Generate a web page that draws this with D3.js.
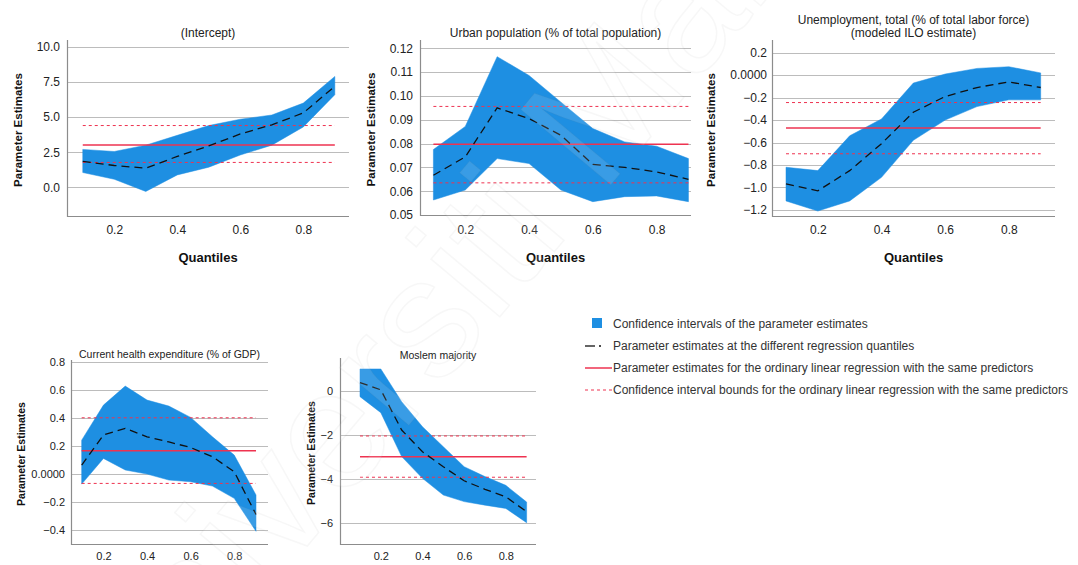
<!DOCTYPE html>
<html>
<head>
<meta charset="utf-8">
<script src="https://cdn.jsdelivr.net/npm/d3@7"></script>
<style>
    body { margin: 0; background: #fff; }
    svg { display: block; font-family: Arial, 'Liberation Sans', sans-serif; }
</style>
</head>
<body>
<svg id="chart" width="1078" height="565"></svg>
<script>
// quantiles used by every panel
const quantiles = [0.1, 0.2, 0.3, 0.4, 0.5, 0.6, 0.7, 0.8, 0.9];
const xTicks = [0.2, 0.4, 0.6, 0.8];

// (Intercept)
const interceptEst = [1.85, 1.55, 1.36, 2.2, 2.95, 3.8, 4.45, 5.3, 7.2];
const interceptLower = [1.05, 0.57, -0.3, 0.88, 1.43, 2.3, 3.0, 4.3, 6.6];
const interceptUpper = [2.7, 2.55, 3.0, 3.7, 4.4, 4.85, 5.15, 6.0, 7.9];
const interceptOls = [3.02, 1.77, 4.4];
const interceptTicks = [0, 2.5, 5, 7.5, 10];

// Urban population
const urbanEst = [0.0667, 0.0744, 0.095, 0.0905, 0.0835, 0.0713, 0.0700, 0.0681, 0.065];
const urbanLower = [0.0563, 0.0605, 0.0737, 0.0716, 0.0605, 0.0556, 0.0577, 0.058, 0.0556];
const urbanUpper = [0.0775, 0.0872, 0.1165, 0.1086, 0.0974, 0.0863, 0.0807, 0.0789, 0.0737];
const urbanOls = [0.0797, 0.0635, 0.0956];
const urbanTicks = [0.05, 0.06, 0.07, 0.08, 0.09, 0.10, 0.11, 0.12];

// Unemployment
const unempEst = [-0.968, -1.03, -0.85, -0.61, -0.33, -0.19, -0.11, -0.06, -0.11];
const unempLower = [-1.12, -1.21, -1.12, -0.91, -0.58, -0.40, -0.28, -0.22, -0.22];
const unempUpper = [-0.82, -0.85, -0.54, -0.39, -0.07, 0.01, 0.06, 0.075, 0.02];
const unempOls = [-0.47, -0.70, -0.244];
const unempTicks = [-1.2, -1.0, -0.8, -0.6, -0.4, -0.2, 0, 0.2];

// Current health expenditure
const healthEst = [0.064, 0.28, 0.327, 0.267, 0.23, 0.19, 0.124, 0.017, -0.29];
const healthLower = [-0.072, 0.112, 0.029, 0.0, -0.043, -0.055, -0.086, -0.174, -0.41];
const healthUpper = [0.243, 0.494, 0.63, 0.53, 0.487, 0.406, 0.267, 0.136, -0.15];
const healthOls = [0.167, -0.067, 0.403];
const healthTicks = [-0.4, -0.2, 0, 0.2, 0.4, 0.6, 0.8];

// Moslem majority
const moslemEst = [0.38, 0.05, -1.78, -2.77, -3.45, -4.09, -4.48, -4.82, -5.5];
const moslemLower = [-0.26, -0.99, -2.99, -3.98, -4.74, -5.04, -5.2, -5.35, -6.0];
const moslemUpper = [1.0, 1.0, -0.49, -1.63, -2.54, -3.45, -3.9, -4.3, -5.06];
const moslemOls = [-3.0, -3.93, -2.05];
const moslemTicks = [-6, -4, -2, 0];

const legendLabels = [
    'Confidence intervals of the parameter estimates',
    'Parameter estimates at the different regression quantiles',
    'Parameter estimates for the ordinary linear regression with the same predictors',
    'Confidence interval bounds for the ordinary linear regression with the same predictors'
];

const BAND = '#1e8fe2';
const RED = '#ee3350';
const GRID = '#bcbcbc';
const AXIS = '#8c8c8c';

const svg = d3.select('#chart');

function fourDecimalZero(d) {
    return d === 0 ? '0.0000' : d3.format('.1f')(d);
}

function drawPanel(p) {
    const x = d3.scaleLinear().domain(p.xDomain).range([p.left, p.right]);
    const y = d3.scaleLinear().domain(p.yDomain).range([p.bottom, p.top]);
    const g = svg.append('g').attr('class', 'panel');

    // horizontal grid lines
    g.selectAll('line.grid')
        .data(p.yTicks).enter().append('line')
        .attr('class', 'grid')
        .attr('x1', p.left).attr('x2', p.right)
        .attr('y1', function (d) { return Math.round(y(d)) + 0.5; })
        .attr('y2', function (d) { return Math.round(y(d)) + 0.5; })
        .attr('stroke', GRID)
        .attr('stroke-width', 1);

    const rows = quantiles.map(function (q, i) {
        return {q: q, est: p.est[i], lo: p.lower[i], hi: p.upper[i]};
    });

    const area = d3.area()
        .x(function (d) { return x(d.q); })
        .y0(function (d) { return y(d.lo); })
        .y1(function (d) { return y(d.hi); });
    g.append('path')
        .attr('d', area(rows))
        .attr('fill', BAND)
        .attr('stroke', BAND)
        .attr('stroke-width', 0.5);

    // OLS estimate and its confidence bounds
    const x0 = x(quantiles[0]), x1 = x(quantiles[quantiles.length - 1]);
    g.selectAll('line.ols')
        .data(p.ols).enter().append('line')
        .attr('class', 'ols')
        .attr('x1', x0).attr('x2', x1)
        .attr('y1', function (d) { return y(d); })
        .attr('y2', function (d) { return y(d); })
        .attr('stroke', RED)
        .attr('stroke-width', function (d, i) { return i === 0 ? 1.5 : 1; })
        .attr('stroke-dasharray', function (d, i) { return i === 0 ? null : '3,3'; });

    const line = d3.line()
        .x(function (d) { return x(d.q); })
        .y(function (d) { return y(d.est); });
    g.append('path')
        .attr('d', line(rows))
        .attr('fill', 'none')
        .attr('stroke', '#111')
        .attr('stroke-width', 1.3)
        .attr('stroke-dasharray', '8,5');

    // axes
    const yAxis = d3.axisLeft(y).tickValues(p.yTicks).tickFormat(p.format).tickSize(0).tickPadding(p.pad);
    const ya = g.append('g').attr('transform', 'translate(' + p.left + ',0)').call(yAxis);
    ya.select('.domain').remove();
    ya.selectAll('text').attr('font-size', p.tickSize).attr('fill', '#222');

    const xAxis = d3.axisBottom(x).tickValues(xTicks).tickFormat(d3.format('.1f')).tickSize(0).tickPadding(p.xPad);
    const xa = g.append('g').attr('transform', 'translate(0,' + p.bottom + ')').call(xAxis);
    xa.select('.domain').remove();
    xa.selectAll('text').attr('font-size', p.tickSize).attr('fill', '#222');

    g.append('path')
        .attr('d', 'M' + (p.left + 0.5) + ',' + p.top + 'V' + (p.bottom + 0.5) + 'H' + p.right)
        .attr('fill', 'none')
        .attr('stroke', AXIS)
        .attr('stroke-width', 1.2);

    // titles
    const cx = (p.left + p.right) / 2;
    g.selectAll('text.title')
        .data(p.title).enter().append('text')
        .attr('class', 'title')
        .attr('x', cx)
        .attr('y', function (d, i) { return p.titleY + i * 13; })
        .attr('text-anchor', 'middle')
        .attr('font-size', p.titleSize)
        .attr('fill', '#222')
        .text(function (d) { return d; });

    g.append('text')
        .attr('transform', 'translate(' + p.yLabelX + ',' + ((p.top + p.bottom) / 2 + 2) + ') rotate(-90)')
        .attr('text-anchor', 'middle')
        .attr('font-size', p.yLabelSize)
        .attr('font-weight', 'bold')
        .attr('fill', '#111')
        .text('Parameter Estimates');

    if (p.xLabel) {
        g.append('text')
            .attr('x', cx)
            .attr('y', 262)
            .attr('text-anchor', 'middle')
            .attr('font-size', 13)
            .attr('font-weight', 'bold')
            .attr('fill', '#111')
            .text('Quantiles');
    }
}

drawPanel({
    title: ['(Intercept)'], titleY: 37, titleSize: 12,
    left: 67, right: 349, top: 40, bottom: 216,
    xDomain: [0.05, 0.945], yDomain: [-2.05, 10.5],
    est: interceptEst, lower: interceptLower, upper: interceptUpper, ols: interceptOls,
    yTicks: interceptTicks, format: d3.format('.1f'),
    tickSize: 12, pad: 7, xPad: 9, yLabelX: 22, yLabelSize: 11.5, xLabel: true
});

drawPanel({
    title: ['Urban population (% of total population)'], titleY: 37, titleSize: 12,
    left: 420, right: 691, top: 40, bottom: 215,
    xDomain: [0.058, 0.908], yDomain: [0.05, 0.1235],
    est: urbanEst, lower: urbanLower, upper: urbanUpper, ols: urbanOls,
    yTicks: urbanTicks, format: d3.format('.2f'),
    tickSize: 12, pad: 7, xPad: 10, yLabelX: 375, yLabelSize: 11.5, xLabel: true
});

drawPanel({
    title: ['Unemployment, total (% of total labor force)', '(modeled ILO estimate)'], titleY: 24, titleSize: 12,
    left: 772, right: 1055, top: 40, bottom: 216,
    xDomain: [0.056, 0.945], yDomain: [-1.254, 0.313],
    est: unempEst, lower: unempLower, upper: unempUpper, ols: unempOls,
    yTicks: unempTicks, format: fourDecimalZero,
    tickSize: 12, pad: 5, xPad: 9, yLabelX: 715, yLabelSize: 11.5, xLabel: true
});

drawPanel({
    title: ['Current health expenditure (% of GDP)'], titleY: 358, titleSize: 10.5,
    left: 71, right: 268, top: 360, bottom: 544,
    xDomain: [0.051, 0.955], yDomain: [-0.501, 0.817],
    est: healthEst, lower: healthLower, upper: healthUpper, ols: healthOls,
    yTicks: healthTicks, format: fourDecimalZero,
    tickSize: 11, pad: 6, xPad: 8, yLabelX: 25, yLabelSize: 10.5, xLabel: false
});

drawPanel({
    title: ['Moslem majority'], titleY: 359, titleSize: 10.5,
    left: 340, right: 536, top: 358, bottom: 544,
    xDomain: [0.004, 0.945], yDomain: [-6.97, 1.5],
    est: moslemEst, lower: moslemLower, upper: moslemUpper, ols: moslemOls,
    yTicks: moslemTicks, format: d3.format('d'),
    tickSize: 11, pad: 7, xPad: 8, yLabelX: 315, yLabelSize: 10.5, xLabel: false
});

// legend
const legend = svg.append('g').attr('transform', 'translate(585,324)');
const items = legend.selectAll('g.item')
    .data(legendLabels).enter().append('g')
    .attr('class', 'item')
    .attr('transform', function (d, i) { return 'translate(0,' + (i * 22) + ')'; });

items.append('text')
    .attr('x', 28)
    .attr('y', 4)
    .attr('font-size', 12)
    .attr('fill', '#333')
    .text(function (d) { return d; });

items.each(function (d, i) {
    const it = d3.select(this);
    if (i === 0) {
        it.append('rect').attr('x', 7).attr('y', -6).attr('width', 10).attr('height', 10).attr('fill', BAND);
    } else if (i === 1) {
        it.append('line').attr('x1', 0).attr('x2', 10).attr('y1', 0).attr('y2', 0)
            .attr('stroke', '#111').attr('stroke-width', 1.3);
        it.append('line').attr('x1', 14).attr('x2', 16).attr('y1', 0).attr('y2', 0)
            .attr('stroke', '#111').attr('stroke-width', 1.3);
    } else {
        it.append('line').attr('x1', 0).attr('x2', 27).attr('y1', 0).attr('y2', 0)
            .attr('stroke', RED).attr('stroke-width', i === 2 ? 1.5 : 1)
            .attr('stroke-dasharray', i === 2 ? null : '3,3');
    }
});

// faint diagonal watermark drawn over the page
svg.append('text')
    .attr('transform', 'translate(122,767) rotate(-50)')
    .attr('font-size', 170)
    .attr('fill', '#ffffff')
    .attr('fill-opacity', 0.12)
    .attr('stroke', '#888')
    .attr('stroke-opacity', 0.07)
    .attr('stroke-width', 1.5)
    .text('Universiti Malaya');
</script>
</body>
</html>
